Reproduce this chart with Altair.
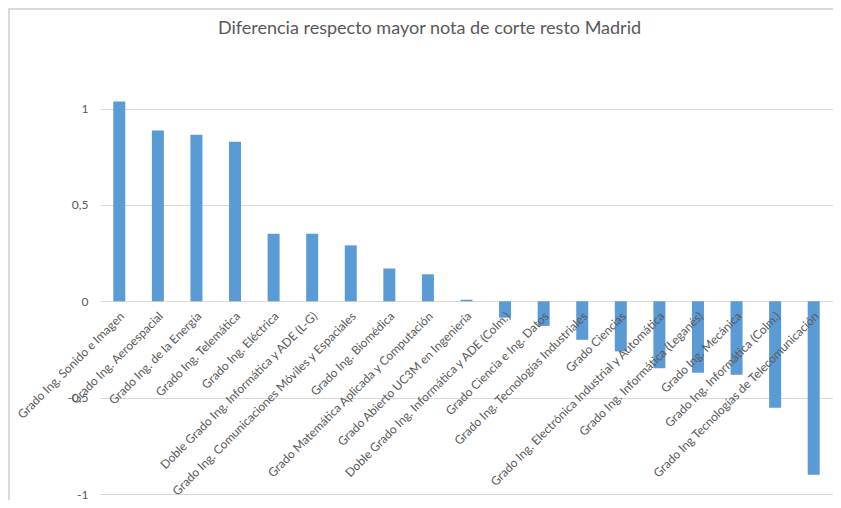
import altair as alt
import pandas as pd

categories = [
    "Grado Ing. Sonido e Imagen",
    "Grado Ing. Aeroespacial",
    "Grado Ing. de la Energía",
    "Grado Ing. Telemática",
    "Grado Ing. Eléctrica",
    "Doble Grado Ing. Informática y ADE (L-G)",
    "Grado Ing. Comunicaciones Móviles y Espaciales",
    "Grado Ing. Biomédica",
    "Grado Matemática Aplicada y Computación",
    "Grado Abierto UC3M en Ingeniería",
    "Doble Grado Ing. Informática y ADE (Colm.)",
    "Grado Ciencia e Ing. Datos",
    "Grado Ing. Tecnologías Industriales",
    "Grado Ciencias",
    "Grado Ing. Electrónica Industrial y Automática",
    "Grado Ing. Informática (Leganés)",
    "Grado Ing. Mecánica",
    "Grado Ing. Informática (Colm.)",
    "Grado Ing Tecnologías de Telecomunicación",
]
values = [1.036, 0.886, 0.864, 0.828, 0.35, 0.35, 0.29, 0.17, 0.14, 0.008,
          -0.085, -0.128, -0.20, -0.26, -0.347, -0.371, -0.381, -0.552, -0.90]
y_ticks = [-1, -0.5, 0, 0.5, 1]

df = pd.DataFrame({"cat": categories, "val": values})

FONT = "Lato"
GRAY = "#595959"
GRID = "#D9D9D9"

x = alt.X("cat:N", sort=categories, axis=None,
          scale=alt.Scale(paddingInner=0, paddingOuter=0))

bars = alt.Chart(df).mark_bar(size=12, color="#5B9BD5").encode(
    x=x,
    y=alt.Y("val:Q", title=None,
            scale=alt.Scale(domain=[-1, 1.2], nice=False, zero=False),
            axis=alt.Axis(values=y_ticks, grid=True, gridColor=GRID, gridWidth=1,
                          domain=False, ticks=False, labelPadding=12,
                          labelFont=FONT, labelFontSize=12, labelColor=GRAY,
                          labelExpr="replace(toString(datum.value), '.', ',')")),
)

labels = alt.Chart(df).mark_text(
    angle=315, align="right", baseline="middle", font=FONT, fontSize=12,
    color=GRAY, xOffset=3, yOffset=13,
).encode(
    x=x,
    y=alt.datum(0),
    text="cat:N",
)

border_left = alt.Chart(df).mark_rule(color=GRID, strokeWidth=1.5).encode(
    x=alt.value(-91.5), y=alt.value(-62), y2=alt.value(430))
border_top = alt.Chart(df).mark_rule(color=GRID, strokeWidth=1.5).encode(
    x=alt.value(-92), x2=alt.value(760), y=alt.value(-61.5))

chart = alt.layer(bars, labels, border_left, border_top).properties(
    width=733,
    height=424,
    title=alt.TitleParams(
        "Diferencia respecto mayor nota de corte resto Madrid",
        font=FONT, fontSize=18, fontWeight="normal", color=GRAY,
        anchor="middle", dx=-37, offset=-31,
    ),
    autosize=alt.AutoSizeParams(type="none"),
    padding={"left": 92, "top": 62, "right": 0, "bottom": 6},
).configure(background="white").configure_view(stroke=None, strokeWidth=0)

chart.save("out.html", embed_options={"renderer": "svg", "actions": False})
